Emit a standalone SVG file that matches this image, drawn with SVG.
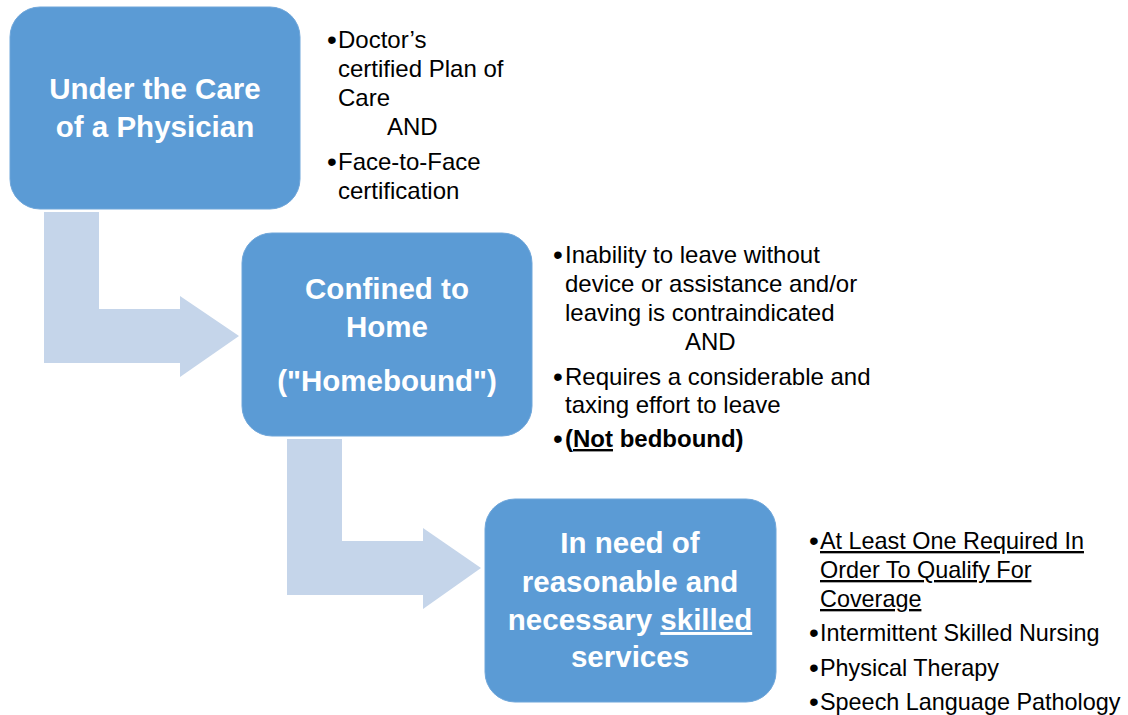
<svg xmlns="http://www.w3.org/2000/svg" width="1128" height="715" viewBox="0 0 1128 715">
<style>
.box{fill:#5B9BD5;stroke:#6FA6DA;stroke-width:1}
.arrow{fill:#C5D5EA}
.title{font-family:"Liberation Sans",Arial,sans-serif;font-weight:bold;font-size:29.5px;fill:#fff;text-anchor:middle}
.list{font-family:"Liberation Sans",Arial,sans-serif;font-size:24px;fill:#000}
.small{font-size:23.4px}
.dot{font-size:28px;text-anchor:middle}
.u{text-decoration:underline}
.b{font-weight:bold}
</style>
<rect width="1128" height="715" fill="#fff"/>
<g id="connectors">
<polygon class="arrow" points="44,212 99,212 99,309 180,309 180,296 239,336 180,377 180,363 44,363"/>
<polygon class="arrow" points="287,439 342,439 342,541 423,541 423,528 481,568 423,609 423,595 287,595"/>
</g>
<g id="node1">
<rect class="box" x="10" y="7" width="290" height="202" rx="30"/>
<text class="title" x="155" y="99">Under the Care</text>
<text class="title" x="155" y="137">of a Physician</text>
</g>
<g id="list1" class="list">
<text class="dot" x="332" y="49">•</text>
<text x="338" y="48">Doctor’s</text>
<text x="338" y="77">certified Plan of</text>
<text x="338" y="106">Care</text>
<text x="387" y="135">AND</text>
<text class="dot" x="332" y="171">•</text>
<text x="338" y="170">Face-to-Face</text>
<text x="338" y="199">certification</text>
</g>
<g id="node2">
<rect class="box" x="242" y="233" width="290" height="203" rx="30"/>
<text class="title" x="387" y="299">Confined to</text>
<text class="title" x="387" y="337">Home</text>
<text class="title" x="387" y="391">("Homebound")</text>
</g>
<g id="list2" class="list">
<text class="dot" x="558" y="264">•</text>
<text x="565" y="263">Inability to leave without</text>
<text x="565" y="292">device or assistance and/or</text>
<text x="565" y="321">leaving is contraindicated</text>
<text x="685" y="350">AND</text>
<text class="dot" x="558" y="386">•</text>
<text x="565" y="385">Requires a considerable and</text>
<text x="565" y="413">taxing effort to leave</text>
<text class="dot" x="558" y="448">•</text>
<text x="565" y="447" class="b">(<tspan class="u">Not</tspan> bedbound)</text>
</g>
<g id="node3">
<rect class="box" x="485" y="499" width="291" height="203" rx="30"/>
<text class="title" x="630" y="553">In need of</text>
<text class="title" x="630" y="592">reasonable and</text>
<text class="title" x="630" y="630">necessary <tspan class="u">skilled</tspan></text>
<text class="title" x="630" y="667">services</text>
</g>
<g id="list3" class="list">
<text class="dot" x="814" y="550">•</text>
<text x="820" y="549" class="u small">At Least One Required In</text>
<text x="820" y="578" class="u small">Order To Qualify For</text>
<text x="820" y="607" class="u small">Coverage</text>
<text class="dot" x="814" y="642">•</text>
<text x="820" y="641" class="small">Intermittent Skilled Nursing</text>
<text class="dot" x="814" y="677">•</text>
<text x="820" y="676" class="small">Physical Therapy</text>
<text class="dot" x="814" y="711">•</text>
<text x="820" y="710" class="small">Speech Language Pathology</text>
</g>
</svg>
